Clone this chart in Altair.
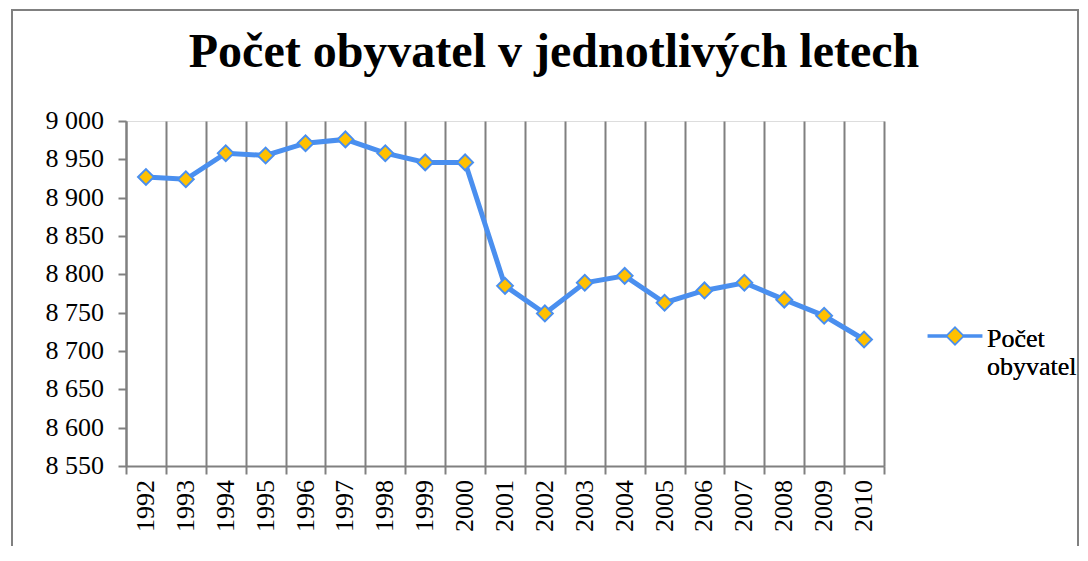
import altair as alt
import pandas as pd

years = [str(y) for y in range(1992, 2011)]
population = [8927, 8924, 8958, 8955, 8971, 8976, 8958, 8946, 8946, 8785,
              8749, 8789, 8798, 8763, 8779, 8789, 8767, 8746, 8715]
series_name = "Počet obyvatel"
y_ticks = [8550, 8600, 8650, 8700, 8750, 8800, 8850, 8900, 8950, 9000]
title_text = "Počet obyvatel v jednotlivých letech"

df = pd.DataFrame({"rok": years, "pocet": population, "serie": [series_name] * len(years)})
ydf = pd.DataFrame({"pocet": y_ticks,
                    "lab": [f"{v:,}".replace(",", " ") for v in y_ticks]})

W, H = 758, 345
FONT = "Times New Roman, Liberation Serif, serif"
BLUE = "#4A8FEF"
ORANGE = "#FFC000"
GRID = "#808080"
LABEL_SIZE = 26

x_axis = alt.Axis(labels=False, tickBand="extent", grid=True, gridColor=GRID,
                  gridWidth=2, domainColor=GRID, domainWidth=2, tickColor=GRID,
                  tickWidth=2, tickSize=8)
y_axis = alt.Axis(values=y_ticks, labels=False, grid=False, domainColor=GRID,
                  domainWidth=2, tickColor=GRID, tickWidth=2, tickSize=8)
x_scale = alt.Scale(paddingInner=0, paddingOuter=0)
y_scale = alt.Scale(domain=[8550, 9000], nice=False, zero=False)

x_enc = alt.X("rok:O", sort=years, title=None, scale=x_scale, axis=x_axis)
y_enc = alt.Y("pocet:Q", title=None, scale=y_scale, axis=y_axis)

sh = -0.73
legend_path = (f"M-1.83,{sh}L-0.5,{sh}M0.5,{sh}L1.83,{sh}"
               f"M0,{sh-0.5}L0.5,{sh}L0,{sh+0.5}L-0.5,{sh}Z")
legend = alt.Legend(title=None, orient="none", legendX=W + 54, legendY=209,
                    padding=0, symbolType=legend_path, symbolSize=900,
                    symbolStrokeWidth=3.5,
                    labelFont=FONT, labelFontSize=26, labelFontWeight="normal",
                    labelColor="black",
                    labelExpr="split(datum.label, ' ')", labelLimit=200,
                    labelOffset=15, labelBaseline="alphabetic")

line = alt.Chart(df).mark_line(strokeWidth=5).encode(
    x=x_enc, y=y_enc,
    stroke=alt.Stroke("serie:N", scale=alt.Scale(range=[BLUE]), legend=legend),
)
points = alt.Chart(df).mark_point(shape="diamond", filled=True, size=250,
                                  strokeWidth=2, opacity=1).encode(
    x=x_enc, y=y_enc,
    stroke=alt.Stroke("serie:N", scale=alt.Scale(range=[BLUE]), legend=legend),
    fill=alt.Fill("serie:N", scale=alt.Scale(range=[ORANGE]), legend=legend),
)
x_labels = alt.Chart(df).mark_text(angle=270, align="right", baseline="middle",
                                   font=FONT, fontSize=LABEL_SIZE, color="black",
                                   clip=False).encode(
    x=x_enc, y=alt.value(H + 14), text="rok:N"
)
y_labels = alt.Chart(ydf).mark_text(align="right", baseline="middle",
                                    font=FONT, fontSize=LABEL_SIZE, color="black",
                                    clip=False).encode(
    y=y_enc, x=alt.value(-22), text="lab:N"
)
border = alt.Chart(df).mark_rect(fill=None, stroke=GRID, strokeWidth=2, clip=False).encode(
    x=alt.value(-114), x2=alt.value(952), y=alt.value(-111), y2=alt.value(460)
)

chart = alt.layer(border, line, points, x_labels, y_labels).properties(
    width=W, height=H,
    title=alt.TitleParams(title_text, font=FONT, fontSize=48, fontWeight="bold",
                          color="black", anchor="middle", dx=49, offset=-68),
    autosize=alt.AutoSizeParams(type="none"),
    padding={"left": 118, "top": 113, "right": 196, "bottom": 80},
).configure_view(stroke=None).configure(background="white", font=FONT
).configure_legend(labelFont=FONT, labelFontSize=26)

chart.save("out.html", embed_options={"renderer": "svg", "actions": False})
